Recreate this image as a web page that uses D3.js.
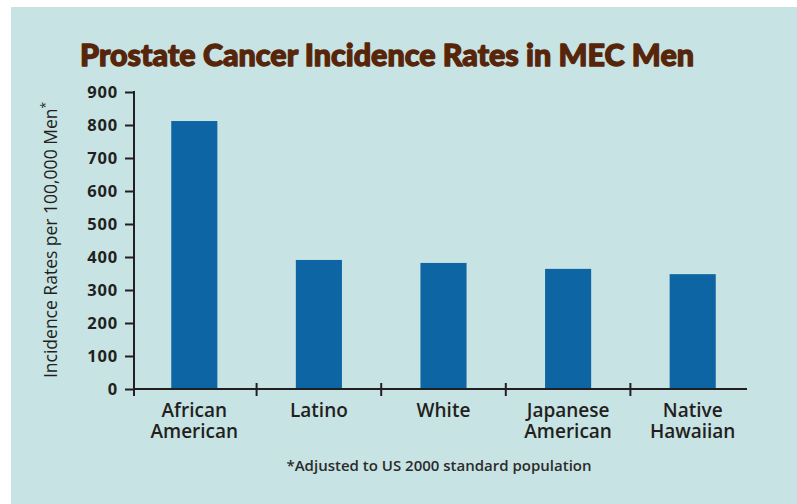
<!DOCTYPE html>
<html>
<head>
<meta charset="utf-8">
<script src="https://cdn.jsdelivr.net/npm/d3@7"></script>
<style>
  html, body { margin: 0; padding: 0; background: #ffffff; }
  svg { display: block; }
</style>
</head>
<body>
<svg id="chart" width="797" height="504"></svg>
<script>
// ---- data ----
const categories = [["African", "American"], ["Latino"], ["White"], ["Japanese", "American"], ["Native", "Hawaiian"]];
const categoryKeys = ["African American", "Latino", "White", "Japanese American", "Native Hawaiian"];
const values = [812, 391, 382, 364, 348];
const yTicks = [0, 100, 200, 300, 400, 500, 600, 700, 800, 900];
const titleText = "Prostate Cancer Incidence Rates in MEC Men";
const yTitle = "Incidence Rates per 100,000 Men";
const footnote = "*Adjusted to US 2000 standard population";

const W = 797, H = 504;
const svg = d3.select("#chart");
const ink = "#231f20";

// background panel
svg.append("rect").attr("x", 11).attr("y", 7).attr("width", W - 11).attr("height", H - 7).attr("fill", "#c7e3e3");

const x = d3.scaleBand().domain(categoryKeys).range([132, 755]).paddingInner(0.63).paddingOuter(0.315);
const y = d3.scaleLinear().domain([0, 900]).range([389, 92]);

// bars
svg.append("g").selectAll("rect").data(values).join("rect")
  .attr("x", (d, i) => x(categoryKeys[i]))
  .attr("y", d => y(d))
  .attr("width", x.bandwidth())
  .attr("height", d => y(0) - y(d))
  .attr("fill", "#0e65a3");

// y axis
const yAxis = svg.append("g").attr("transform", "translate(134,0)")
  .call(d3.axisLeft(y).tickValues(yTicks).tickSize(9).tickPadding(7).tickFormat(d3.format("d")));
yAxis.select(".domain").remove();
yAxis.selectAll(".tick line").attr("stroke", ink).attr("stroke-width", 2);
yAxis.selectAll(".tick text").attr("fill", ink)
  .style("font-family", "'Open Sans', sans-serif").style("font-size", "16.5px").style("font-weight", 700)
  .style("letter-spacing", "0.8px");
svg.append("line").attr("x1", 134).attr("x2", 134).attr("y1", y(900) - 1).attr("y2", 396)
  .attr("stroke", ink).attr("stroke-width", 2);

// x axis
svg.append("line").attr("x1", 134).attr("x2", 747).attr("y1", y(0)).attr("y2", y(0))
  .attr("stroke", ink).attr("stroke-width", 2);
const bounds = categoryKeys.map((k, i) => x.range()[0] + i * x.step());
svg.append("g").selectAll("line").data(bounds.slice(1)).join("line")
  .attr("x1", d => d).attr("x2", d => d).attr("y1", y(0) - 6).attr("y2", y(0) + 7)
  .attr("stroke", ink).attr("stroke-width", 2);

// category labels (one text per line)
const catG = svg.append("g");
categories.forEach((lines, i) => {
  lines.forEach((l, j) => {
    catG.append("text")
      .attr("x", x(categoryKeys[i]) + x.bandwidth() / 2)
      .attr("y", 417 + j * 20.5)
      .attr("text-anchor", "middle")
      .attr("fill", ink)
      .style("font-family", "'Open Sans', sans-serif").style("font-size", "19px").style("font-weight", 600)
      .text(l);
  });
});

// y title
const yt = svg.append("text")
  .attr("transform", "translate(57,240) rotate(-90)")
  .attr("text-anchor", "middle")
  .attr("fill", ink)
  .style("font-family", "'Open Sans', sans-serif").style("font-size", "17.5px").style("font-weight", 500);
yt.append("tspan").text(yTitle);
yt.append("tspan").attr("dy", -7).style("font-size", "12px").text("*");

// title
const title = svg.append("text")
  .attr("x", 80).attr("y", 66)
  .attr("fill", "#57250a")
  .attr("stroke", "#57250a").attr("stroke-width", 1.3).attr("stroke-linejoin", "round")
  .style("font-family", "Lato, sans-serif").style("font-size", "31px").style("font-weight", 900)
  .text(titleText);
title.attr("textLength", 614).attr("lengthAdjust", "spacingAndGlyphs");

// footnote
svg.append("text")
  .attr("x", 439).attr("y", 471)
  .attr("text-anchor", "middle")
  .attr("fill", "#2b2b2b")
  .style("font-family", "'Open Sans', sans-serif").style("font-size", "15px").style("font-weight", 600)
  .text(footnote);
</script>
</body>
</html>
